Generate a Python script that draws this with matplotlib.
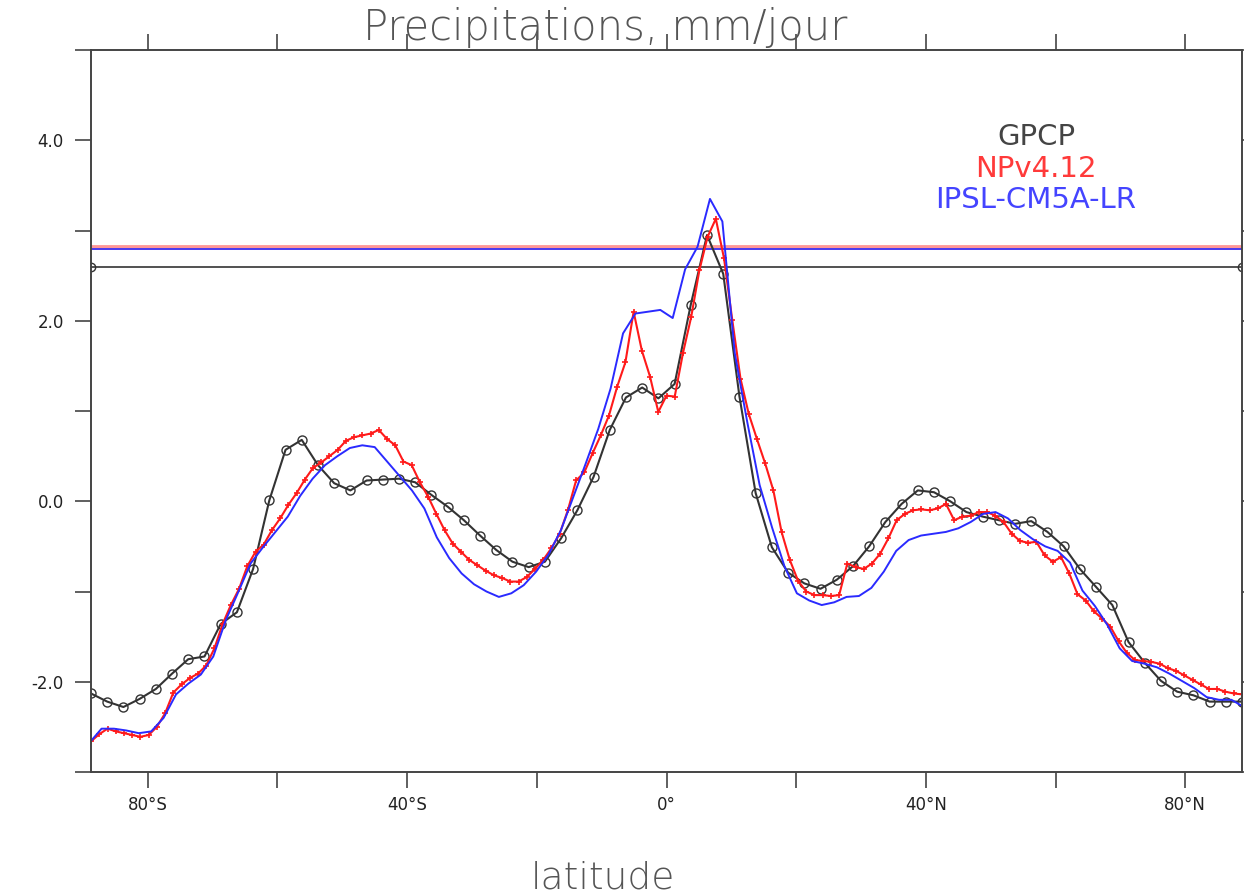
import matplotlib
matplotlib.use('Agg')
import matplotlib.pyplot as plt
import numpy as np

# GPCP, 2.5 deg grid, -88.75 .. 88.75
lat_gpcp = np.arange(-88.75, 89.0, 2.5)
pr_gpcp = [-2.13, -2.22, -2.28, -2.19, -2.08, -1.91, -1.75, -1.72, -1.36, -1.23,
           -0.75, 0.01, 0.57, 0.68, 0.40, 0.20, 0.12, 0.23, 0.24, 0.25,
           0.21, 0.07, -0.06, -0.21, -0.38, -0.54, -0.67, -0.73, -0.67, -0.41,
           -0.10, 0.27, 0.79, 1.15, 1.26, 1.14, 1.30, 2.18, 2.95, 2.52,
           1.16, 0.09, -0.51, -0.79, -0.91, -0.97, -0.87, -0.72, -0.50, -0.23,
           -0.03, 0.12, 0.10, 0.00, -0.12, -0.17, -0.21, -0.25, -0.22, -0.34,
           -0.50, -0.75, -0.95, -1.15, -1.56, -1.79, -1.99, -2.11, -2.15, -2.22,
           -2.22, -2.22]

# NPv4.12, 143 latitudes -90 .. 90
lat_np = np.linspace(-90, 90, 143)
pr_np = [-2.70, -2.66, -2.58, -2.52, -2.55, -2.57, -2.59, -2.61, -2.59, -2.50,
         -2.35, -2.12, -2.03, -1.96, -1.91, -1.82, -1.63, -1.36, -1.15, -0.97,
         -0.72, -0.56, -0.48, -0.32, -0.19, -0.04, 0.09, 0.24, 0.37, 0.43,
         0.50, 0.57, 0.67, 0.71, 0.73, 0.75, 0.79, 0.69, 0.62, 0.44,
         0.40, 0.21, 0.05, -0.14, -0.32, -0.47, -0.56, -0.65, -0.71, -0.77,
         -0.82, -0.85, -0.89, -0.89, -0.84, -0.75, -0.65, -0.52, -0.36, -0.10,
         0.23, 0.32, 0.53, 0.73, 0.95, 1.27, 1.54, 2.10, 1.67, 1.38,
         0.99, 1.17, 1.16, 1.64, 2.04, 2.56, 2.93, 3.13, 2.69, 2.01,
         1.36, 0.97, 0.69, 0.42, 0.12, -0.34, -0.65, -0.88, -1.00, -1.04,
         -1.04, -1.05, -1.04, -0.69, -0.73, -0.75, -0.69, -0.58, -0.41, -0.21,
         -0.14, -0.10, -0.09, -0.10, -0.08, -0.03, -0.21, -0.17, -0.16, -0.12,
         -0.12, -0.16, -0.23, -0.36, -0.44, -0.46, -0.45, -0.60, -0.67, -0.62,
         -0.80, -1.03, -1.10, -1.22, -1.30, -1.39, -1.55, -1.68, -1.76, -1.77,
         -1.78, -1.80, -1.85, -1.88, -1.93, -1.98, -2.03, -2.08, -2.08, -2.11,
         -2.13, -2.14, -2.15]

# IPSL-CM5A-LR, 94 latitudes
lat_ipsl = np.linspace(-89.04, 89.04, 94)
pr_ipsl = [-2.68, -2.52, -2.52, -2.54, -2.57, -2.55, -2.40, -2.14, -2.02, -1.92,
           -1.72, -1.32, -1.01, -0.69, -0.51, -0.34, -0.17, 0.06, 0.25, 0.40,
           0.50, 0.59, 0.62, 0.60, 0.44, 0.28, 0.12, -0.08, -0.40, -0.63,
           -0.80, -0.92, -1.00, -1.06, -1.02, -0.93, -0.78, -0.59, -0.32, 0.05,
           0.42, 0.80, 1.25, 1.86, 2.08, 2.10, 2.12,
           2.03, 2.57, 2.82, 3.35, 3.10, 1.64, 0.88, 0.18, -0.29, -0.72,
           -1.02, -1.10, -1.15, -1.12, -1.06, -1.05, -0.96, -0.78, -0.55, -0.43,
           -0.38, -0.36, -0.34, -0.30, -0.23, -0.14, -0.12, -0.19, -0.32, -0.42,
           -0.50, -0.55, -0.68, -0.99, -1.16, -1.37, -1.63, -1.77, -1.80, -1.84,
           -1.91, -1.99, -2.07, -2.17, -2.20, -2.20, -2.28]

# moyennes globales
mean_gpcp = 2.60
mean_np = 2.82
mean_ipsl = 2.79

xticks = [-80, -60, -40, -20, 0, 20, 40, 60, 80]
xticklabels = ['80°S', '', '40°S', '', '0°', '', '40°N', '', '80°N']
yticks = [-3, -2, -1, 0, 1, 2, 3, 4, 5]
yticklabels = ['', '-2.0', '', '0.0', '', '2.0', '', '4.0', '']

c_black = '#333333'
c_red = '#ff1a1a'
c_blue = '#2a2aff'
c_axis = '#444444'

fig = plt.figure(figsize=(12.44, 8.96), dpi=100)
ax = fig.add_axes([91/1244, 1-772/896, 1151/1244, 722/896])

xl = [-88.75, 88.75]
ax.plot(xl, [mean_gpcp]*2, color=c_black, lw=1.2, marker='o', ms=6, mfc='none', mec=c_black)
ax.plot(xl, [mean_np]*2, color=c_red, lw=3.5, alpha=0.45)
ax.plot(xl, [mean_ipsl]*2, color=c_blue, lw=1.2)

ax.plot(lat_gpcp, pr_gpcp, color=c_black, lw=1.5, marker='o', ms=6.5,
        mfc='none', mec=c_black, mew=1.0)
ax.plot(lat_np, pr_np, color=c_red, lw=1.5, marker='+', ms=4, mew=1.2)
ax.plot(lat_ipsl, pr_ipsl, color=c_blue, lw=1.4)

ax.set_xlim(-88.75, 88.75)
ax.set_ylim(-3, 5)
ax.set_xticks(xticks)
ax.set_xticklabels(xticklabels)
ax.set_yticks(yticks)
ax.set_yticklabels(yticklabels)
ax.tick_params(axis='both', direction='out', length=11.5, width=1.2,
               color=c_axis, labelsize=12, labelcolor='#222222')
ax.tick_params(axis='x', top=True, pad=6)
ax.tick_params(axis='y', right=True, pad=8)
for s in ax.spines.values():
    s.set_color(c_axis)
    s.set_linewidth(1.4)

leg_x = (1036 - 91) / 1151
ax.text(leg_x, 0.8795, 'GPCP', transform=ax.transAxes, ha='center', va='center',
        fontsize=21, color='#444444')
ax.text(leg_x, 0.8345, 'NPv4.12', transform=ax.transAxes, ha='center', va='center',
        fontsize=21, color='#ff3a3a')
ax.text(leg_x, 0.7916, 'IPSL-CM5A-LR', transform=ax.transAxes, ha='center', va='center',
        fontsize=21, color='#4444ff')

fig.text(605/1244, 1-27/896, 'Precipitations, mm/jour', ha='center', va='center',
         fontsize=30, color='#555555', fontweight='light')
fig.text(603/1244, 1-878/896, 'latitude', ha='center', va='center',
         fontsize=27, color='#555555', fontweight='light')

fig.savefig('out.png', dpi=100, facecolor='white')
